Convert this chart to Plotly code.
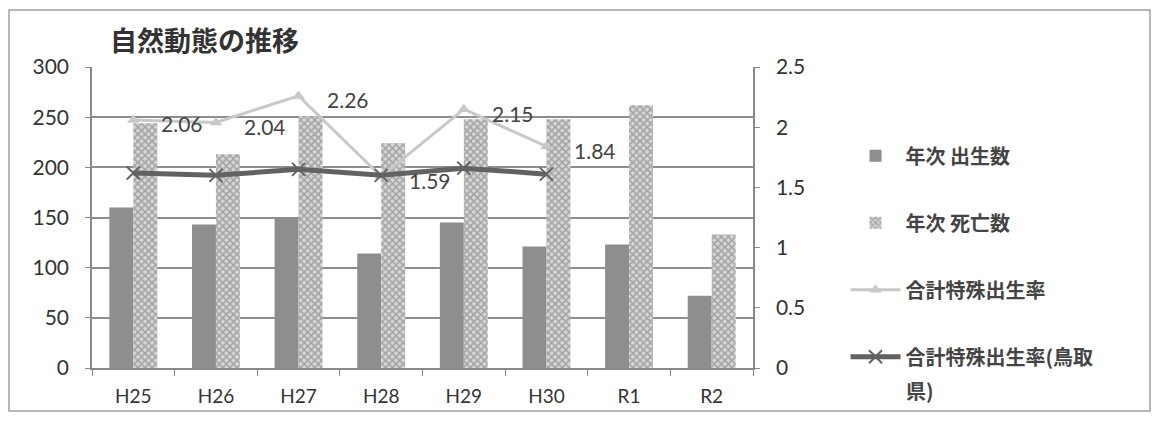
import plotly.graph_objects as go

# Fiscal years (Heisei / Reiwa)
years = ["H25", "H26", "H27", "H28", "H29", "H30", "R1", "R2"]

# Annual births and deaths (persons)
births = [160, 143, 150, 114, 145, 121, 123, 72]
deaths = [244, 213, 251, 224, 248, 248, 262, 133]

# Total fertility rate: municipality and Tottori Prefecture
tfr_years = ["H25", "H26", "H27", "H28", "H29", "H30"]
tfr_local = [2.06, 2.04, 2.26, 1.59, 2.15, 1.84]
tfr_tottori = [1.62, 1.60, 1.65, 1.60, 1.66, 1.61]

FONT = "Lato, 'Noto Sans CJK JP', sans-serif"
JP = "'Noto Sans CJK JP', sans-serif"

# plot-area geometry in pixels (used to place the title, legend note and frame)
W, H = 1156, 424
ML, MR, MT, MB = 92, 403, 67, 56
PW, PH = W - ML - MR, H - MT - MB


def px_x(px):
    return (px - ML) / PW


def px_y(py):
    return (H - MB - py) / PH


fig = go.Figure()

fig.add_trace(go.Bar(
    x=years, y=births, name="<b>年次 出生数</b>",
    marker=dict(color="#8e8e8e", line=dict(width=0)),
    legendgroup="a",
))
fig.add_trace(go.Bar(
    x=years, y=deaths, name="<b>年次 死亡数</b>",
    marker=dict(color="#cfcfcf", line=dict(width=0),
                pattern=dict(shape="x", fgcolor="#6e6e6e", bgcolor="#d6d6d6",
                             size=5, solidity=0.5)),
    legendgroup="b",
))
fig.add_trace(go.Scatter(
    x=tfr_years, y=tfr_local, yaxis="y2", name="<b>合計特殊出生率</b>",
    mode="lines+markers",
    line=dict(color="#c8c8c8", width=3),
    marker=dict(symbol="triangle-up", size=11, color="#c8c8c8"),
    legendgroup="c",
))
fig.add_trace(go.Scatter(
    x=tfr_years, y=tfr_tottori, yaxis="y2", name="<b>合計特殊出生率(鳥取</b>",
    mode="lines+markers",
    line=dict(color="#626262", width=5),
    marker=dict(symbol="x-thin", size=13, line=dict(color="#626262", width=2)),
    legendgroup="d",
))

# value labels to the right of each fertility-rate point
annotations = [
    dict(x=yr, y=v, xref="x", yref="y2", text=f"{v:.2f}", showarrow=False,
         xanchor="left", yanchor="middle", xshift=26, yshift=-4,
         font=dict(family=FONT, size=21, color="#444444"))
    for yr, v in zip(tfr_years, tfr_local)
]
annotations.append(dict(
    text="<b>自然動態の推移</b>", xref="paper", yref="paper",
    x=px_x(108), y=1.0, xanchor="left", yanchor="bottom", yshift=6,
    showarrow=False, font=dict(family=JP, size=27, color="#333333"),
))
# continuation line of the last legend entry
annotations.append(dict(
    text="<b>県)</b>", xref="paper", yref="paper",
    x=px_x(904), y=px_y(390), xanchor="left", yanchor="middle",
    showarrow=False, font=dict(family=JP, size=20, color="#444444"),
))

fig.update_layout(
    width=W, height=H,
    margin=dict(l=ML, r=MR, t=MT, b=MB),
    paper_bgcolor="white", plot_bgcolor="white",
    font=dict(family=FONT, size=19, color="#333333"),
    barmode="group", bargap=0.42, bargroupgap=0,
    showlegend=True,
    legend=dict(
        x=1.14, y=0.77, xanchor="left", yanchor="top",
        font=dict(family=JP, size=20, color="#444444"),
        tracegroupgap=38, itemwidth=50, bgcolor="rgba(0,0,0,0)",
    ),
    xaxis=dict(
        showline=True, linecolor="#888888", linewidth=1.5,
        ticks="outside", tickson="boundaries", ticklen=6, tickcolor="#888888",
        tickfont=dict(size=19, color="#333333"), showgrid=False,
        ticklabelstandoff=10,
    ),
    yaxis=dict(
        range=[0, 300], dtick=50, showline=True, linecolor="#888888", linewidth=1.5,
        ticks="outside", ticklen=5, tickcolor="#888888",
        gridcolor="#8e8e8e", gridwidth=1.5, zeroline=False,
        tickfont=dict(size=21, color="#333333"), ticklabelstandoff=12,
    ),
    yaxis2=dict(
        range=[0, 2.5], dtick=0.5, overlaying="y", side="right",
        showline=True, linecolor="#888888", linewidth=1.5,
        ticks="outside", ticklen=5, tickcolor="#888888", showgrid=False,
        tickfont=dict(size=21, color="#333333"), zeroline=False,
        ticklabelstandoff=12,
    ),
    annotations=annotations,
    shapes=[dict(
        type="rect", xref="paper", yref="paper",
        x0=px_x(9), x1=px_x(1150), y0=px_y(411), y1=px_y(10),
        line=dict(color="#a0a0a0", width=1.5), fillcolor="rgba(0,0,0,0)", layer="below",
    )],
)

fig.write_html("out.html")
